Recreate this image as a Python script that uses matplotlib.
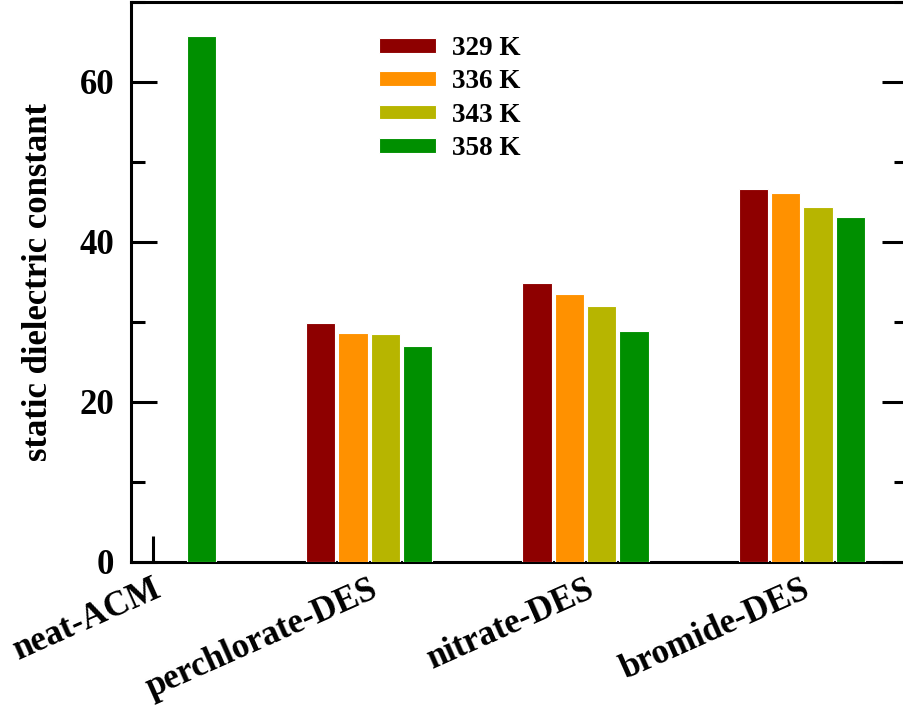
import numpy as np
import matplotlib
matplotlib.use("Agg")
import matplotlib.pyplot as plt
from matplotlib.ticker import MultipleLocator

plt.rcParams['font.family'] = ['Liberation Serif', 'DejaVu Serif']
plt.rcParams['font.weight'] = 'bold'

# data
systems = ["neat-ACM", "perchlorate-DES", "nitrate-DES", "bromide-DES"]
temps = ["329 K", "336 K", "343 K", "358 K"]
eps_329 = [np.nan, 29.8, 34.9, 46.6]
eps_336 = [np.nan, 28.6, 33.5, 46.1]
eps_343 = [np.nan, 28.5, 32.0, 44.3]
eps_358 = [65.7, 27.0, 28.9, 43.1]
colors = ["#8E0000", "#FF9100", "#B7B500", "#008F00"]

fig = plt.figure(figsize=(9.04, 7.13), dpi=100)
ax = fig.add_axes([0.1449, 0.2118, 0.8595, 0.786])

x = np.arange(len(systems))
step = 0.15
width = 0.136
series = [eps_329, eps_336, eps_343, eps_358]
for i, (vals, c, lab) in enumerate(zip(series, colors, temps)):
    ax.bar(x + (i - 1.5) * step, vals, width=width, color=c,
           edgecolor='white', linewidth=0.8, label=lab, zorder=3)

ax.set_xlim(-0.1, 3.49)
ax.set_ylim(0, 70)

for s in ax.spines.values():
    s.set_linewidth(2.2)

ax.yaxis.set_major_locator(MultipleLocator(20))
ax.yaxis.set_minor_locator(MultipleLocator(10))
ax.tick_params(axis='y', which='both', direction='in', left=True, right=True,
               width=2.2, pad=12, labelsize=25)
ax.tick_params(axis='y', which='major', length=19)
ax.tick_params(axis='y', which='minor', length=10)
ax.set_yticks([0, 20, 40, 60])

ax.set_xticks(x)
ax.set_xticklabels(systems, rotation=24, ha='right', va='top',
                   rotation_mode='anchor', fontsize=25)
ax.tick_params(axis='x', direction='in', length=19, width=2.2, pad=8)
for k, t in enumerate(ax.xaxis.get_major_ticks()):
    if k > 0:
        t.tick1line.set_visible(False)
    t.tick2line.set_visible(False)

ax.set_ylabel("static dielectric constant", fontsize=25, fontweight='bold')
ax.yaxis.set_label_coords(-0.098, 0.5)

ax.legend(loc='upper left', bbox_to_anchor=(379 / 904, 1 - 36 / 713),
          bbox_transform=fig.transFigure, frameon=False, fontsize=19.5,
          handlelength=2.1, handleheight=0.45, handletextpad=0.6,
          labelspacing=0.31, borderpad=0, borderaxespad=0)

fig.savefig("out.png", dpi=100)
